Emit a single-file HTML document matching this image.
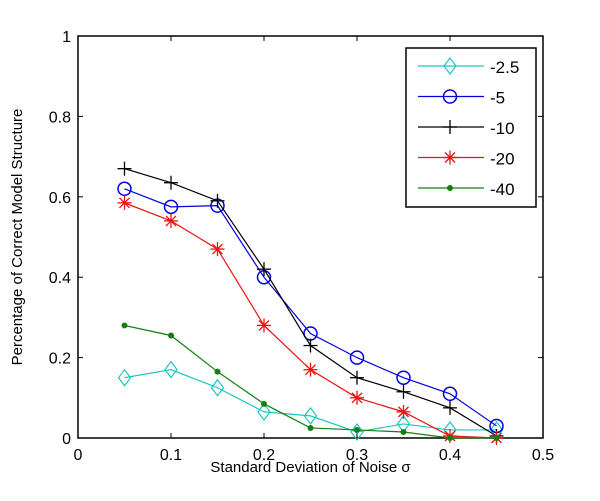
<!DOCTYPE html>
<html><head><meta charset="utf-8"><style>
body{margin:0;background:#fff;}
svg{display:block;font-family:"Liberation Sans",sans-serif;}
</style></head><body>
<svg id="chart" width="600" height="501" viewBox="0 0 600 501" xmlns="http://www.w3.org/2000/svg"></svg>
<script>
const xValues=[0.05,0.1,0.15,0.2,0.25,0.3,0.35,0.4,0.45];
const seriesNames=["-2.5","-5","-10","-20","-40"];
const s25=[0.15,0.17,0.125,0.065,0.055,0.015,0.035,0.02,0.02];
const s5=[0.62,0.575,0.578,0.40,0.26,0.20,0.15,0.11,0.03];
const s10=[0.67,0.635,0.59,0.42,0.23,0.15,0.115,0.075,0.005];
const s20=[0.585,0.54,0.47,0.28,0.17,0.10,0.065,0.005,0];
const s40=[0.28,0.255,0.165,0.085,0.025,0.02,0.015,0,0];
const xTicks=[0,0.1,0.2,0.3,0.4,0.5];
const yTicks=[0,0.2,0.4,0.6,0.8,1];
const xTickLabels=["0","0.1","0.2","0.3","0.4","0.5"];
const yTickLabels=["0","0.2","0.4","0.6","0.8","1"];

const L=78,R=543,T=36,B=438;
const sx=v=>L+(v-0)/(0.5)*(R-L);
const sy=v=>B-(v-0)/1*(B-T);
const svg=document.getElementById('chart');
const NS="http://www.w3.org/2000/svg";
function mk(tag,attrs,parent){const e=document.createElementNS(NS,tag);for(const k in attrs)e.setAttribute(k,attrs[k]);(parent||svg).appendChild(e);return e;}

const frame=mk('rect',{x:L,y:T,width:R-L,height:B-T,fill:'#fff',stroke:'#000','stroke-width':1.5});



xTicks.forEach((t,i)=>{
  const x=sx(t);
  const g=mk('g',{});
  
  
  mk('line',{x1:x,y1:B,x2:x,y2:B-5,stroke:'#000'},g);
  mk('line',{x1:x,y1:T,x2:x,y2:T+5,stroke:'#000'},g);
  const tx=mk('text',{x:x,y:B+22,'text-anchor':'middle','font-size':16},g);
  tx.textContent=xTickLabels[i];
});
yTicks.forEach((t,i)=>{
  const y=sy(t);
  const g=mk('g',{});
  
  
  mk('line',{x1:L,y1:y,x2:L+5,y2:y,stroke:'#000'},g);
  mk('line',{x1:R,y1:y,x2:R-5,y2:y,stroke:'#000'},g);
  const tx=mk('text',{x:L-7,y:y+6,'text-anchor':'end','font-size':16},g);
  tx.textContent=yTickLabels[i];
});
const xt=mk('text',{x:(L+R)/2,y:472,'text-anchor':'middle','font-size':15});


xt.textContent='Standard Deviation of Noise σ';
const yt=mk('text',{x:0,y:0,'text-anchor':'middle','font-size':15,transform:`translate(22,${(T+B)/2}) rotate(-90)`});


yt.textContent='Percentage of Correct Model Structure';

const colors=['#1fc6c0','#0000e0','#000','#f01010','#108010'];
const markers=['diamond','circle','plus','star','dot'];
function marker(type,x,y,c,g){
  if(type==='diamond')mk('polygon',{points:`${x},${y-8} ${x+6},${y} ${x},${y+8} ${x-6},${y}`,fill:'none',stroke:c,'stroke-width':1.2},g);
  else if(type==='circle')mk('circle',{cx:x,cy:y,r:6.5,fill:'none',stroke:c,'stroke-width':1.5},g);
  else if(type==='plus'){mk('line',{x1:x-7,y1:y,x2:x+7,y2:y,stroke:c,'stroke-width':1.3},g);mk('line',{x1:x,y1:y-7,x2:x,y2:y+7,stroke:c,'stroke-width':1.3},g);}
  else if(type==='star'){[[7,0],[0,7],[5,5],[5,-5]].forEach(([a,b])=>mk('line',{x1:x-a,y1:y-b,x2:x+a,y2:y+b,stroke:c,'stroke-width':1.3},g));}
  else mk('circle',{cx:x,cy:y,r:3,fill:c},g);
}
const allSeries=[s25,s5,s10,s20,s40];
allSeries.forEach((s,k)=>{
  const g=mk('g',{});
  
  
  mk('polyline',{points:s.map((v,i)=>sx(xValues[i])+','+sy(v)).join(' '),fill:'none',stroke:colors[k],'stroke-width':1.2},g);
  s.forEach((v,i)=>marker(markers[k],sx(xValues[i]),sy(v),colors[k],g));
});

const lg=mk('g',{});


mk('rect',{x:406,y:48,width:130,height:159,fill:'#fff',stroke:'#000','stroke-width':1.5},lg);
seriesNames.forEach((n,k)=>{
  const y=66+k*30.5;
  const e=mk('g',{},lg);
  
  
  mk('line',{x1:418,y1:y,x2:484,y2:y,stroke:colors[k],'stroke-width':1.2},e);
  marker(markers[k],450,y,colors[k],e);
  const t=mk('text',{x:490,y:y+7,'font-size':17},e);
  t.textContent=n;
});
</script>
</body></html>
